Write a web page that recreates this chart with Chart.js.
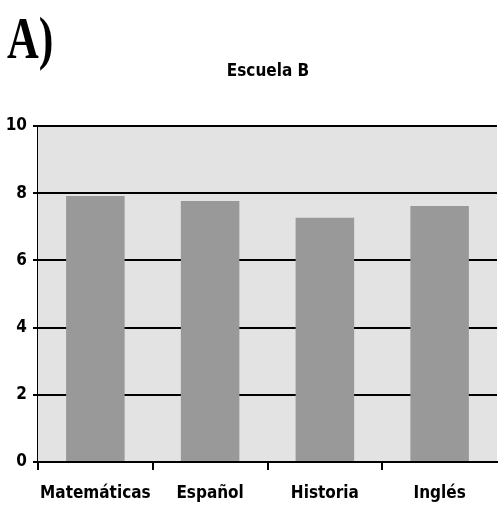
<!DOCTYPE html>
<html>
<head>
<meta charset="utf-8">
<script src="https://cdn.jsdelivr.net/npm/chart.js@4.4.1/dist/chart.umd.min.js"></script>
<style>
    html, body { margin: 0; padding: 0; background: #ffffff; }
    #wrap { position: relative; width: 498px; height: 508px; }
    #panelLabel {
        position: absolute; left: 7px; top: 10px;
        font-family: 'Liberation Serif', 'DejaVu Serif', serif;
        font-weight: bold; font-size: 44px; color: #000;
        transform: scaleY(1.32); transform-origin: top left;
        line-height: 1;
    }
    #chartTitle {
        position: absolute; left: 168px; width: 200px; top: 60px;
        text-align: center;
        font-family: 'DejaVu Sans Condensed', 'Liberation Sans', sans-serif;
        font-weight: bold; font-size: 17px; color: #000;
        line-height: 20px;
    }
</style>
</head>
<body>
<div id="wrap">
    <canvas id="chart" width="498" height="508"></canvas>
    <div id="panelLabel">A)</div>
    <div id="chartTitle">Escuela B</div>
</div>
<script>
// Datos
const materias = ['Matemáticas', 'Español', 'Historia', 'Inglés'];
const promedios = [7.92, 7.77, 7.27, 7.62];
const marcasY = [0, 2, 4, 6, 8, 10];

const fuente = "'DejaVu Sans Condensed', 'Liberation Sans', sans-serif";

// Fondo gris del área y líneas horizontales (por debajo de las barras)
const fondoArea = {
    id: 'fondoArea',
    beforeDatasetsDraw(chart) {
        const { ctx, chartArea, scales } = chart;
        ctx.save();
        ctx.fillStyle = '#e3e3e3';
        ctx.fillRect(chartArea.left, chartArea.top, chartArea.right - chartArea.left, chartArea.bottom - chartArea.top);
        ctx.strokeStyle = '#000';
        ctx.lineWidth = 2;
        marcasY.forEach(v => {
            const y = Math.round(scales.y.getPixelForValue(v));
            ctx.beginPath();
            ctx.moveTo(chartArea.left, y);
            ctx.lineTo(chartArea.right, y);
            ctx.stroke();
        });
        ctx.restore();
    }
};

new Chart(document.getElementById('chart'), {
    type: 'bar',
    data: {
        labels: materias,
        datasets: [{
            data: promedios,
            backgroundColor: '#999999',
            borderWidth: 0,
            barPercentage: 0.51,
            categoryPercentage: 1.0
        }]
    },
    options: {
        responsive: false,
        animation: false,
        devicePixelRatio: 1,
        layout: { padding: { left: 0, right: 1, top: 126, bottom: 0 } },
        plugins: {
            legend: { display: false },
            tooltip: { enabled: false },
            title: { display: false }
        },
        scales: {
            x: {
                grid: {
                    drawOnChartArea: false, drawTicks: true, tickLength: 8, lineWidth: 2,
                    // la marca del extremo derecho no aparece en el original
                    color: ctx => (ctx.type === 'tick' ? '#000' : 'rgba(0,0,0,0)')
                },
                border: { color: '#000', width: 2 },
                ticks: {
                    color: '#000',
                    font: { family: fuente, size: 17, weight: 'bold' },
                    padding: 13,
                    maxRotation: 0,
                    autoSkip: false
                },
                afterFit(scale) { scale.height = 46; }
            },
            y: {
                min: 0,
                max: 10,
                afterBuildTicks(scale) { scale.ticks = marcasY.map(v => ({ value: v })); },
                grid: { drawOnChartArea: false, color: '#000', lineWidth: 2, tickLength: 5 },
                border: { color: '#000', width: 2 },
                ticks: {
                    color: '#000',
                    font: { family: fuente, size: 17, weight: 'bold' },
                    padding: 6
                },
                afterFit(scale) { scale.width = 38; }
            }
        }
    },
    plugins: [fondoArea]
});
</script>
</body>
</html>
